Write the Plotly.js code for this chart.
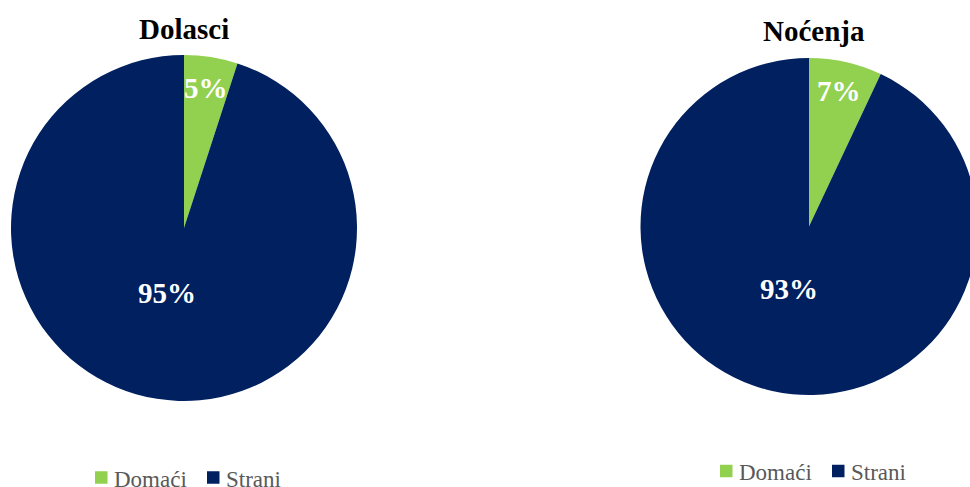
<!DOCTYPE html>
<html><head><meta charset="utf-8">
<script src="https://cdn.plot.ly/plotly-3.0.1.min.js"></script>
<style>html,body{margin:0;padding:0;overflow:hidden;background:#fff;}</style>
</head><body><div id="chart" style="width:980px;height:487px;"></div>
<script>
const categories = ["Domaći", "Strani"];
const dolasciValues = [5, 95];
const nocenjaValues = [7, 93];
const chartTitles = ["Dolasci", "Noćenja"];
const colors = ["#92D050", "#002060"];

const W = 980, H = 487;
const SERIF = "'Liberation Serif', 'Times New Roman', serif";

// pie boxes in pixels: [left, right, top, bottom]
const boxes = [[11, 357, 55, 401], [640.5, 977.5, 58, 395]];
const titlePos = [[184, 29], [814, 31]];
// legend layout per pie: [first square left, second square left, vertical centre]
const legendPos = [[95, 207, 477.5], [720, 832, 471]];
const seriesList = [dolasciValues, nocenjaValues];
// radial placement of the label inside each slice (fraction of radius), per category
const labelRadius = [0.81, 0.39];

const data = seriesList.map((vals, i) => {
  const b = boxes[i];
  return {
    type: "pie", labels: categories, values: vals, sort: false, direction: "clockwise", rotation: 0,
    marker: { colors: colors, line: { width: 0 } },
    textinfo: "none", hoverinfo: "label+percent", showlegend: false,
    domain: { x: [b[0] / W, b[1] / W], y: [1 - b[3] / H, 1 - b[2] / H] }
  };
});

const annotations = [];
const shapes = [];
seriesList.forEach((vals, i) => {
  const b = boxes[i];
  const cx = (b[0] + b[1]) / 2, cy = (b[2] + b[3]) / 2;
  const r = Math.min(b[1] - b[0], b[3] - b[2]) / 2;
  const total = vals.reduce((a, c) => a + c, 0);
  let cum = 0;
  vals.forEach((v, k) => {
    const mid = (cum + v / 2) / total * 2 * Math.PI;
    cum += v;
    const d = labelRadius[k] * r;
    const px = cx + Math.sin(mid) * d - (k === 1 ? 6 : 0), py = cy - Math.cos(mid) * d - 2;
    annotations.push({
      text: Math.round(v / total * 100) + "%", x: px / W, y: 1 - py / H, xref: "paper", yref: "paper",
      showarrow: false, xanchor: "center", yanchor: "middle",
      font: { family: SERIF, size: 29, color: "#ffffff", weight: "bold" }
    });
  });
  annotations.push({
    text: chartTitles[i], x: titlePos[i][0] / W, y: 1 - titlePos[i][1] / H, xref: "paper", yref: "paper",
    showarrow: false, xanchor: "center", yanchor: "middle",
    font: { family: SERIF, size: 29, color: "#000", weight: "bold" }
  });
  // legend: coloured square + label per category
  const lp = legendPos[i];
  const sqSize = 12.5;
  categories.forEach((cat, k) => {
    const x0 = lp[k];
    shapes.push({
      type: "rect", xref: "paper", yref: "paper",
      x0: x0 / W, x1: (x0 + sqSize) / W,
      y0: 1 - (lp[2] + sqSize / 2) / H, y1: 1 - (lp[2] - sqSize / 2) / H,
      fillcolor: colors[k], line: { width: 0 }
    });
    annotations.push({
      text: cat, x: (x0 + sqSize + 4) / W, y: 1 - (lp[2] + 1.5) / H, xref: "paper", yref: "paper",
      showarrow: false, xanchor: "left", yanchor: "middle",
      font: { family: SERIF, size: 23, color: "#595959" }
    });
  });
});

const layout = {
  width: W, height: H, margin: { l: 0, r: 0, t: 0, b: 0 },
  paper_bgcolor: "#fff", plot_bgcolor: "#fff",
  showlegend: false,
  annotations: annotations,
  shapes: shapes
};
Plotly.newPlot("chart", data, layout, { displayModeBar: false, staticPlot: true });
</script></body></html>
